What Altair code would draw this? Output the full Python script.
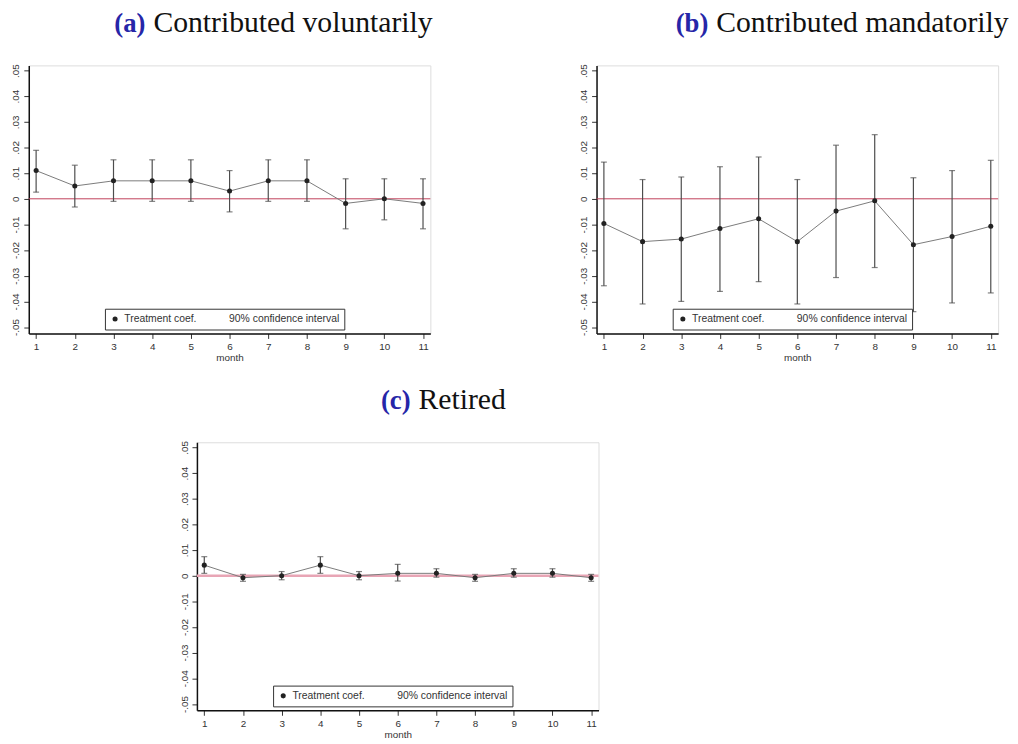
import altair as alt
import pandas as pd

months = list(range(1, 12))

a_coef = [0.011, 0.005, 0.007, 0.007, 0.007, 0.003, 0.007, 0.007, -0.0018, 0.0, -0.0018]
a_lo = [0.0026, -0.0032, -0.001, -0.001, -0.001, -0.0051, -0.001, -0.001, -0.0117, -0.0082, -0.0117]
a_hi = [0.0189, 0.0131, 0.0152, 0.0152, 0.0152, 0.011, 0.0152, 0.0152, 0.0078, 0.0078, 0.0078]

b_coef = [-0.0096, -0.0167, -0.0157, -0.0116, -0.0078, -0.0167, -0.0048, -0.0008, -0.0179, -0.0147, -0.0107]
b_lo = [-0.0339, -0.041, -0.040, -0.0361, -0.0323, -0.041, -0.0307, -0.0268, -0.044, -0.0406, -0.0367]
b_hi = [0.0143, 0.0075, 0.0085, 0.0125, 0.0163, 0.0075, 0.0209, 0.025, 0.0082, 0.011, 0.015]

c_coef = [0.0041, -0.0008, 0.0, 0.0041, 0.0, 0.0009, 0.0009, -0.0008, 0.0009, 0.0009, -0.0008]
c_lo = [0.0009, -0.0022, -0.0016, 0.0009, -0.0016, -0.0021, -0.0006, -0.0022, -0.0006, -0.0006, -0.0022]
c_hi = [0.0074, 0.0005, 0.0016, 0.0074, 0.0016, 0.0044, 0.0027, 0.0005, 0.0027, 0.0027, 0.0005]

y_ticks = [-0.05, -0.04, -0.03, -0.02, -0.01, 0.0, 0.01, 0.02, 0.03, 0.04, 0.05]
series_names = ["Treatment coef.", "90% confidence interval"]

W, H = 406, 271
TEXT = "#333333"
SANS = "Liberation Sans"


def panel(tag, title, coef, lo, hi, zero_color, zero_width, tx):
    df = pd.DataFrame({"month": months, "coef": coef, "lo": lo, "hi": hi,
                       "series": series_names[0]})
    x = alt.X("month:Q",
              scale=alt.Scale(domain=[0.81, 11.19], nice=False, zero=False),
              axis=alt.Axis(values=months, title="month", grid=False, format="d",
                            labelFontSize=10, titleFontSize=10, titleFontWeight="normal",
                            labelColor=TEXT, titleColor=TEXT, tickColor=TEXT,
                            domainColor="#111111", domainWidth=1.5, tickSize=5,
                            labelPadding=3, titlePadding=1, labelFont=SANS, titleFont=SANS))
    yscale = alt.Scale(domain=[-0.0525, 0.052], nice=False, zero=False)
    yaxis = alt.Axis(values=y_ticks, title=None, grid=False,
                     labelExpr="datum.value == 0 ? '0' : replace(replace(format(datum.value, '.2f'), '0.', '.'), '\u2212', '-')",
                     labelAngle=270, labelAlign="center", labelBaseline="bottom",
                     labelFontSize=10, labelColor=TEXT, tickColor=TEXT, tickSize=5,
                     domainColor="#111111", domainWidth=1.5, labelPadding=3, labelFont=SANS)
    base = alt.Chart(df)
    zdf = pd.DataFrame({"z": [0.0]})
    zero = alt.Chart(zdf).mark_rule(color=zero_color, strokeWidth=zero_width).encode(
        y=alt.Y("z:Q", scale=yscale, axis=yaxis))
    line = base.mark_line(color="#7a7a7a", strokeWidth=1).encode(x=x, y=alt.Y("coef:Q", scale=yscale, axis=yaxis))
    bars = base.mark_rule(color="#4d4d4d", strokeWidth=1.2).encode(x=x, y=alt.Y("lo:Q", scale=yscale, axis=yaxis), y2="hi:Q")
    cap_lo = base.mark_tick(color="#4d4d4d", orient="horizontal", size=6, thickness=1.2).encode(x=x, y=alt.Y("lo:Q", scale=yscale, axis=yaxis))
    cap_hi = base.mark_tick(color="#4d4d4d", orient="horizontal", size=6, thickness=1.2).encode(x=x, y=alt.Y("hi:Q", scale=yscale, axis=yaxis))
    pts = base.mark_circle(size=26, opacity=1).encode(
        x=x, y=alt.Y("coef:Q", scale=yscale, axis=yaxis),
        color=alt.Color("series:N",
                        scale=alt.Scale(domain=series_names, range=["#222222", "transparent"]),
                        legend=alt.Legend(title=None, orient="none", legendX=77, legendY=246,
                                          direction="horizontal", strokeColor="#333333",
                                          fillColor="white", padding=5, symbolSize=26,
                                          symbolType="circle", labelFontSize=10.5, labelColor=TEXT,
                                          labelFont=SANS, columnPadding=18, labelOffset=4,
                                          symbolStrokeWidth=0)))
    tdf = pd.DataFrame({"tag": [tag], "title": [title]})
    t_tag = alt.Chart(tdf).mark_text(font="Liberation Serif", fontSize=27, fontWeight="bold",
                                      color="#2626a8", align="right", baseline="alphabetic").encode(
        text="tag:N", x=alt.value(tx), y=alt.value(-34))
    t_title = alt.Chart(tdf).mark_text(font="Liberation Serif", fontSize=30,
                                        color="#111111", align="left", baseline="alphabetic").encode(
        text="title:N", x=alt.value(tx + 8), y=alt.value(-34))
    return alt.layer(zero, line, bars, cap_lo, cap_hi, pts, t_tag, t_title).properties(width=W, height=H)


pa = panel("(a)", "Contributed voluntarily", a_coef, a_lo, a_hi, "#c0405a", 1, 118)
pb = panel("(b)", "Contributed mandatorily", b_coef, b_lo, b_hi, "#c0405a", 1, 113)
pc = panel("(c)", "Retired", c_coef, c_lo, c_hi, "#e8a5b5", 2.5, 216)

spacer = alt.Chart(pd.DataFrame({"m": [0]})).mark_point(opacity=0).properties(
    width=151, height=10, view=alt.ViewBackground(strokeOpacity=0))

top = alt.hconcat(pa, pb, spacing=146).resolve_scale(color="independent").resolve_legend(color="independent")
bottom = alt.hconcat(spacer, pc, spacing=0).resolve_scale(color="independent").resolve_legend(color="independent")
chart = alt.vconcat(top, bottom, spacing=21).resolve_scale(color="independent").resolve_legend(
    color="independent").properties(padding={"left": 2, "top": -5, "right": 0, "bottom": 0}
).configure_view(stroke="#777777", strokeWidth=1).configure(background="white")

chart.save("out.html", embed_options={"renderer": "svg", "actions": False})
